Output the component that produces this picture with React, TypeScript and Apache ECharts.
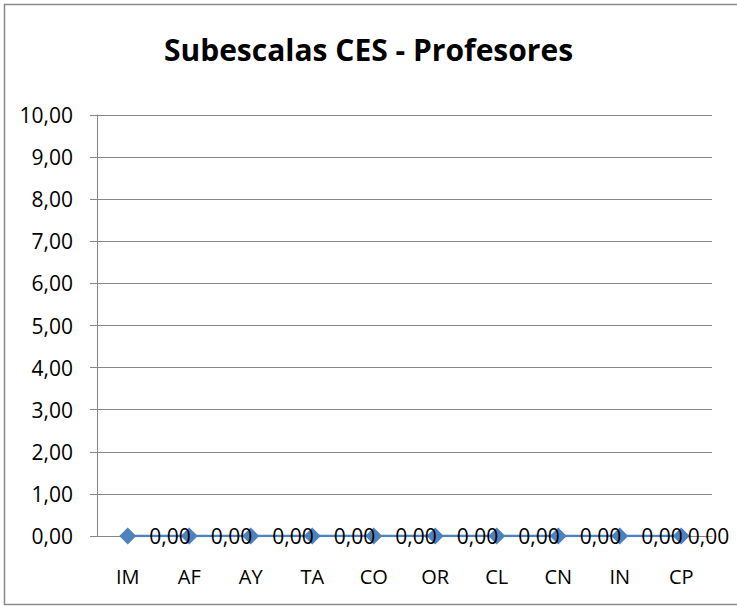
import React, { useEffect, useRef } from "react";
import * as echarts from "echarts";

const categories = ["IM", "AF", "AY", "TA", "CO", "OR", "CL", "CN", "IN", "CP"];
const values = [0, 0, 0, 0, 0, 0, 0, 0, 0, 0];
const titleText = "Subescalas CES - Profesores";

const fmt = (v: number) => v.toFixed(2).replace(".", ",");

export default function App() {
  const ref = useRef<HTMLDivElement>(null);
  useEffect(() => {
    document.body.style.margin = "0";
    const chart = echarts.init(ref.current!, null, { renderer: "svg" });
    const seriesData = values.map((v, i) =>
      i === values.length - 1 ? { value: v, label: { distance: -2 } } : { value: v }
    );
    chart.setOption({
      animation: false,
      backgroundColor: "#ffffff",
      textStyle: { fontFamily: "Open Sans" },
      title: {
        text: titleText,
        left: "center",
        top: 29,
        textStyle: { fontSize: 30, fontWeight: "bold", color: "#000", fontFamily: "Open Sans" },
      },
      graphic: [
        {
          type: "rect",
          shape: { x: 4.5, y: 4.5, width: 740, height: 600 },
          style: { fill: "none", stroke: "#8a8a8a", lineWidth: 1.5 },
          silent: true,
        },
      ],
      grid: { left: 97, right: 25, top: 115, bottom: 70, containLabel: false },
      xAxis: {
        type: "category",
        data: categories,
        boundaryGap: true,
        axisLine: { show: true, lineStyle: { color: "#868686", width: 1 } },
        axisTick: { show: false },
        axisLabel: { color: "#000", fontSize: 20, margin: 30, fontFamily: "Open Sans" },
      },
      yAxis: {
        type: "value",
        min: 0,
        max: 10,
        interval: 1,
        axisLine: { show: true, lineStyle: { color: "#868686", width: 1 } },
        axisTick: { show: true, length: 7, lineStyle: { color: "#868686" } },
        splitLine: { show: true, lineStyle: { color: "#868686", width: 1 } },
        axisLabel: { color: "#000", fontSize: 21, margin: 24, formatter: (v: number) => fmt(v), fontFamily: "Open Sans" },
      },
      series: [
        {
          type: "line",
          data: seriesData,
          symbol: "diamond",
          symbolSize: 17,
          itemStyle: { color: "#4F81BD" },
          lineStyle: { color: "#4F81BD", width: 2.5 },
          label: {
            show: true,
            position: "right",
            distance: 13,
            color: "#000",
            fontSize: 21,
            fontFamily: "Open Sans",
            formatter: (p: any) => fmt(p.value),
          },
        },
      ],
    });
    return () => chart.dispose();
  }, []);
  return <div ref={ref} style={{ position: "absolute", left: 0, top: 0, width: 737, height: 606 }} />;
}
